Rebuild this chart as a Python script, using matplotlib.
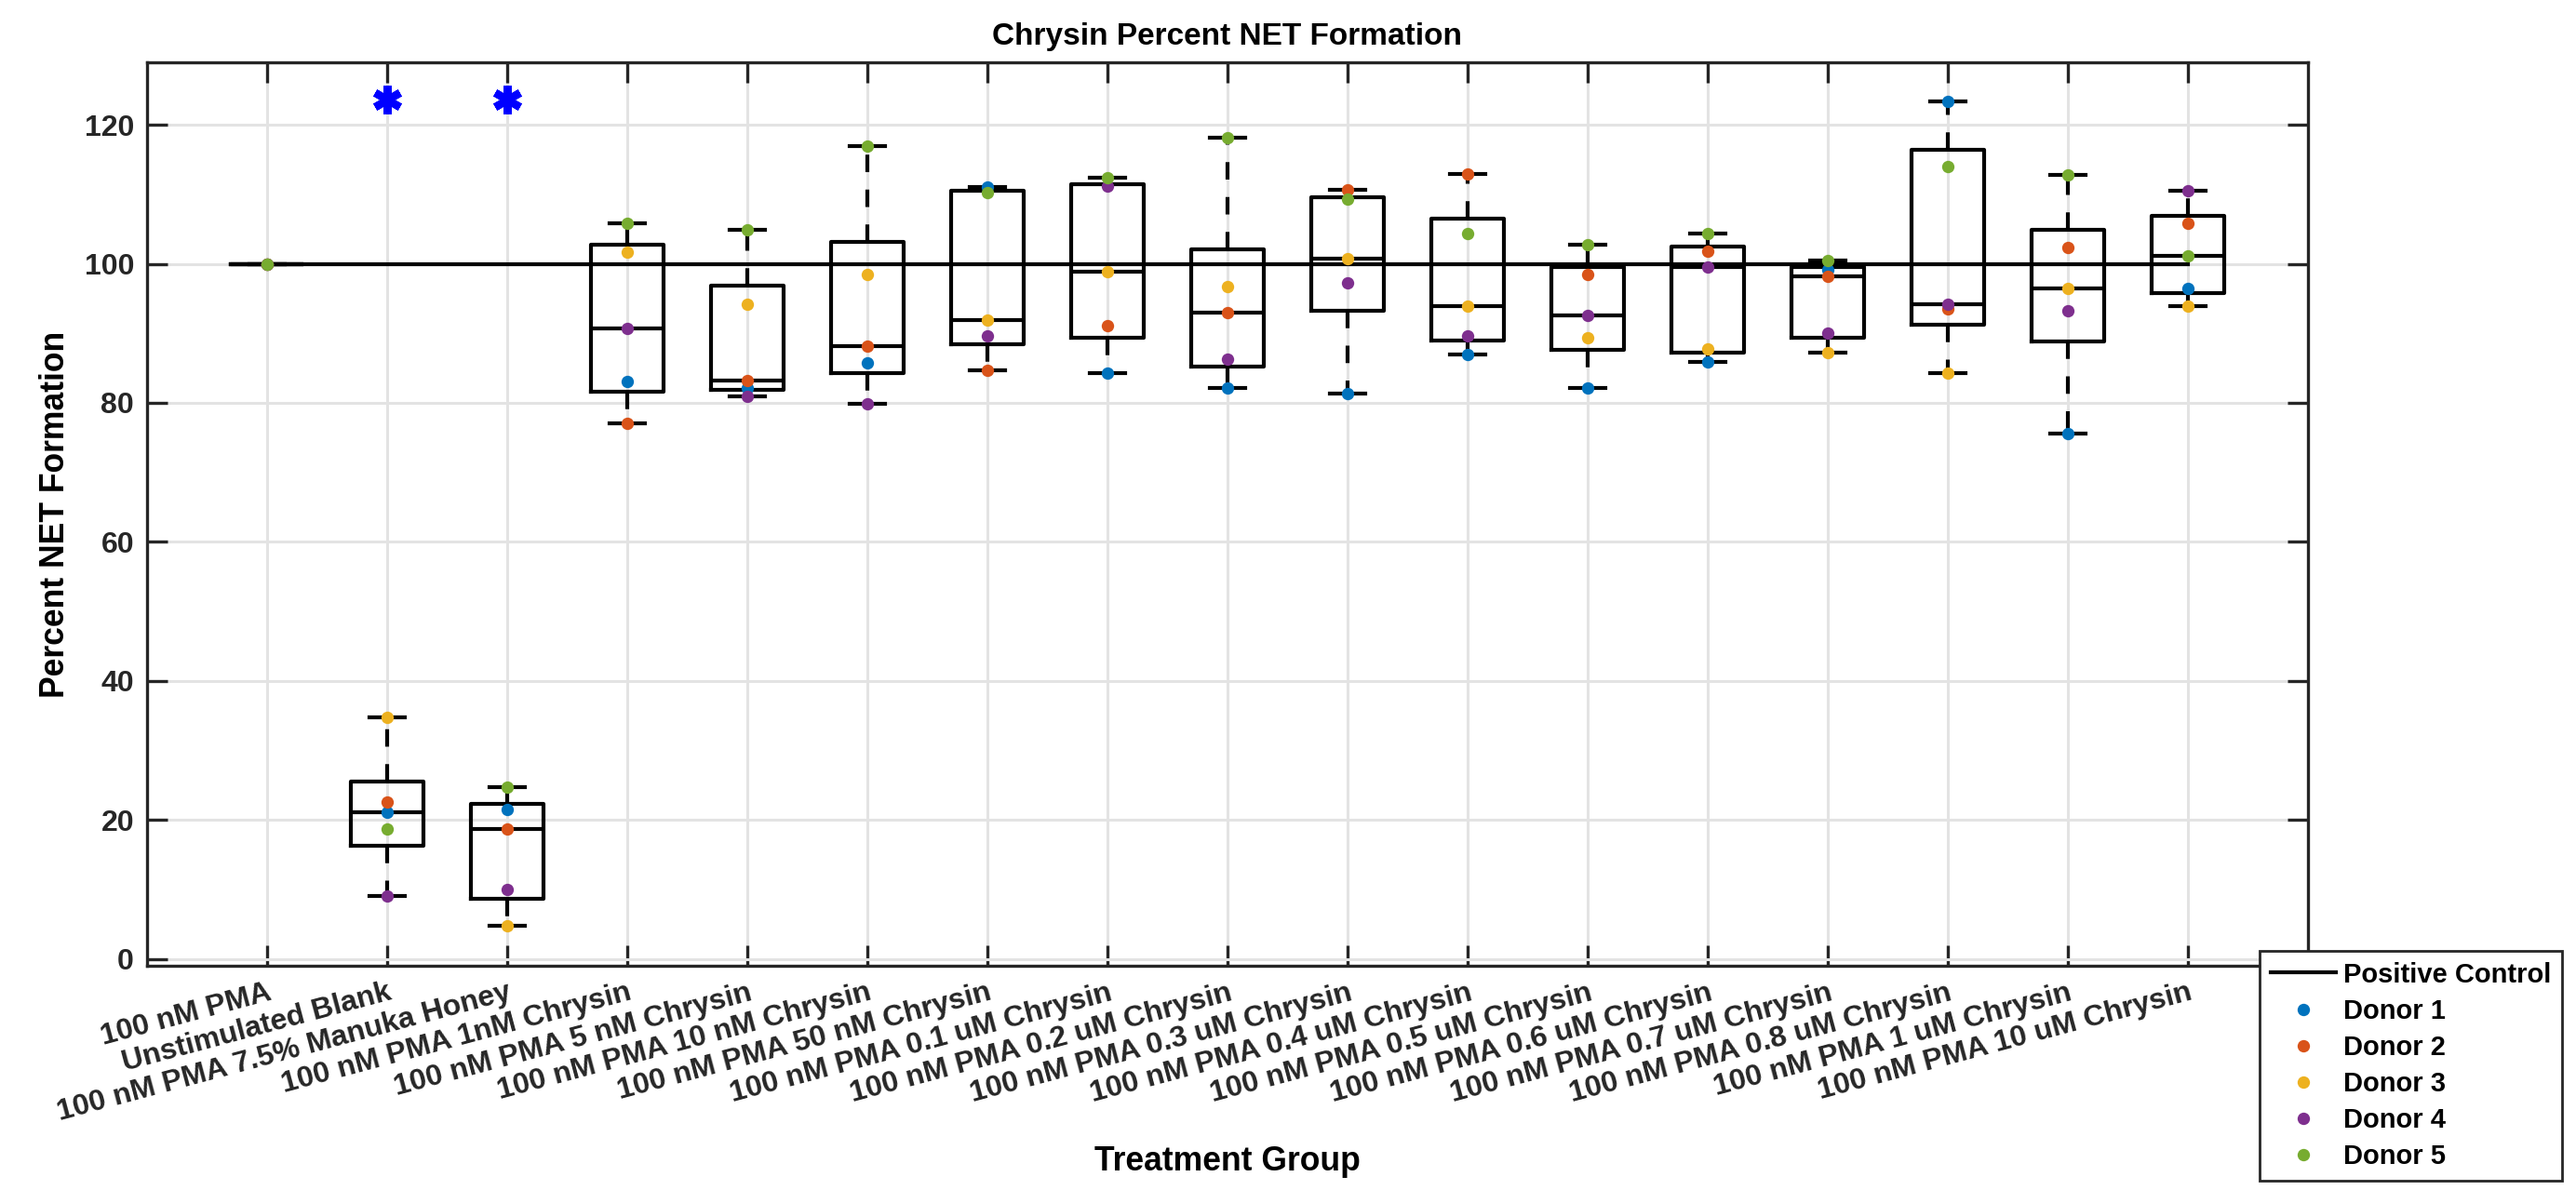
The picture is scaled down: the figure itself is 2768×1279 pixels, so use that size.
import numpy as np
import matplotlib
matplotlib.use("Agg")
import matplotlib.pyplot as plt
from matplotlib.lines import Line2D

# ---------------- data ----------------
groups = ["100 nM PMA", "Unstimulated Blank", "100 nM PMA 7.5% Manuka Honey",
          "100 nM PMA 1nM Chrysin", "100 nM PMA 5 nM Chrysin", "100 nM PMA 10 nM Chrysin",
          "100 nM PMA 50 nM Chrysin", "100 nM PMA 0.1 uM Chrysin", "100 nM PMA 0.2 uM Chrysin",
          "100 nM PMA 0.3 uM Chrysin", "100 nM PMA 0.4 uM Chrysin", "100 nM PMA 0.5 uM Chrysin",
          "100 nM PMA 0.6 uM Chrysin", "100 nM PMA 0.7 uM Chrysin", "100 nM PMA 0.8 uM Chrysin",
          "100 nM PMA 1 uM Chrysin", "100 nM PMA 10 uM Chrysin"]

donor1 = [100, 21.1, 21.5, 83.1, 82.1, 85.7, 111.1, 84.3, 82.1, 81.3, 86.9, 82.1, 85.9, 99.2, 123.4, 75.6, 96.4]
donor2 = [100, 22.5, 18.7, 77.0, 83.2, 88.2, 84.7, 91.1, 93.0, 110.6, 113.0, 98.5, 101.8, 98.2, 93.5, 102.3, 105.8]
donor3 = [100, 34.7, 4.7, 101.7, 94.2, 98.5, 91.9, 98.9, 96.8, 100.7, 93.9, 89.4, 87.7, 87.2, 84.3, 96.4, 93.9]
donor4 = [100, 9.0, 10.0, 90.7, 81.0, 79.9, 89.7, 111.2, 86.3, 97.3, 89.7, 92.6, 99.5, 90.1, 94.2, 93.2, 110.5]
donor5 = [100, 18.7, 24.7, 105.9, 104.9, 117.0, 110.3, 112.4, 118.1, 109.3, 104.3, 102.7, 104.3, 100.5, 114.0, 112.8, 101.1]

donor_names = ["Donor 1", "Donor 2", "Donor 3", "Donor 4", "Donor 5"]
donor_colors = ["#0072BD", "#D95319", "#EDB120", "#7E2F8E", "#77AC30"]

positive_control = 100
control_x = [0.7, 17]
sig_groups = [2, 3]
sig_y = 123.7

# ---------------- helpers ----------------
def matlab_prctile(vals, p):
    v = np.sort(np.asarray(vals, dtype=float))
    n = len(v)
    q = 100.0 * (np.arange(1, n + 1) - 0.5) / n
    return float(np.interp(p, q, v))

donors = [donor1, donor2, donor3, donor4, donor5]
data = np.array(donors).T  # groups x donors

stats = []
for g in range(len(groups)):
    vals = data[g]
    q1 = matlab_prctile(vals, 25)
    q3 = matlab_prctile(vals, 75)
    med = float(np.median(vals))
    iqr = q3 - q1
    hi = vals[vals <= q3 + 1.5 * iqr].max()
    lo = vals[vals >= q1 - 1.5 * iqr].min()
    stats.append(dict(med=med, q1=q1, q3=q3, whislo=lo, whishi=hi, fliers=[]))

# ---------------- figure ----------------
plt.rcParams['font.family'] = ['Liberation Sans', 'DejaVu Sans']
plt.rcParams['font.weight'] = 'bold'

fig = plt.figure(figsize=(13.84, 6.395), dpi=200)
ax = fig.add_axes([158 / 2768, 1 - 1038 / 1279, (2480 - 158) / 2768, (1038 - 67) / 1279])

pos = np.arange(1, len(groups) + 1)
lw = 1.5
ax.bxp(stats, positions=pos, widths=0.6, showfliers=False,
       boxprops=dict(color='black', linewidth=lw),
       whiskerprops=dict(color='black', linewidth=lw, linestyle=(0, (4.5, 4.5))),
       capprops=dict(color='black', linewidth=lw),
       medianprops=dict(color='black', linewidth=lw),
       manage_ticks=False, zorder=3)

ax.plot(control_x, [positive_control, positive_control], color='black', linewidth=lw,
        zorder=4, label='Positive Control')

for d, name, col in zip(donors, donor_names, donor_colors):
    ax.plot(pos, d, linestyle='none', marker='o', markersize=4.8, markeredgewidth=0,
            color=col, zorder=5, label=name)

ax.plot(sig_groups, [sig_y] * len(sig_groups), linestyle='none', marker=(6, 2, 0),
        markersize=11, markeredgewidth=3.0, color='#0000FF', zorder=6)

ax.set_xlim(0, 18)
ax.set_ylim(-1, 129)
ax.set_yticks(np.arange(0, 121, 20))
ax.set_xticks(pos)
ax.set_xticklabels(groups, rotation=15, ha='right', rotation_mode='anchor', fontsize=11.5,
                   fontweight='bold')
for t in ax.get_yticklabels():
    t.set_fontsize(11.5)
    t.set_fontweight('bold')

ax.grid(True, color='#e3e3e3', linewidth=1.1, zorder=0)
ax.set_axisbelow(True)
for s in ax.spines.values():
    s.set_color('#262626')
    s.set_linewidth(1.2)
ax.tick_params(direction='in', length=8, width=1.2, color='#262626', top=True, right=True,
               labelcolor='#262626', pad=5)

ax.set_title('Chrysin Percent NET Formation', fontsize=12, fontweight='bold', pad=7)
ax.set_xlabel('Treatment Group', fontsize=12.8, fontweight='bold', labelpad=7)
ax.set_ylabel('Percent NET Formation', fontsize=12.8, fontweight='bold', labelpad=5)

handles = [Line2D([0], [0], color='black', linewidth=lw)] + [
    Line2D([0], [0], linestyle='none', marker='o', markersize=4.8, markeredgewidth=0, color=c)
    for c in donor_colors]
labels = ['Positive Control'] + donor_names
leg = fig.legend(handles, labels, loc='upper left', bbox_to_anchor=(2428 / 2768, 1 - 1022 / 1279),
                 frameon=True, fancybox=False, framealpha=1, edgecolor='#262626',
                 prop=dict(weight='bold', size=10.5), handlelength=2.4, labelspacing=0.38,
                 borderpad=0.4, handletextpad=0.3, borderaxespad=0)
leg.get_frame().set_linewidth(1.0)
leg.set_zorder(10)

fig.savefig('out.png', dpi=200, facecolor='white')
